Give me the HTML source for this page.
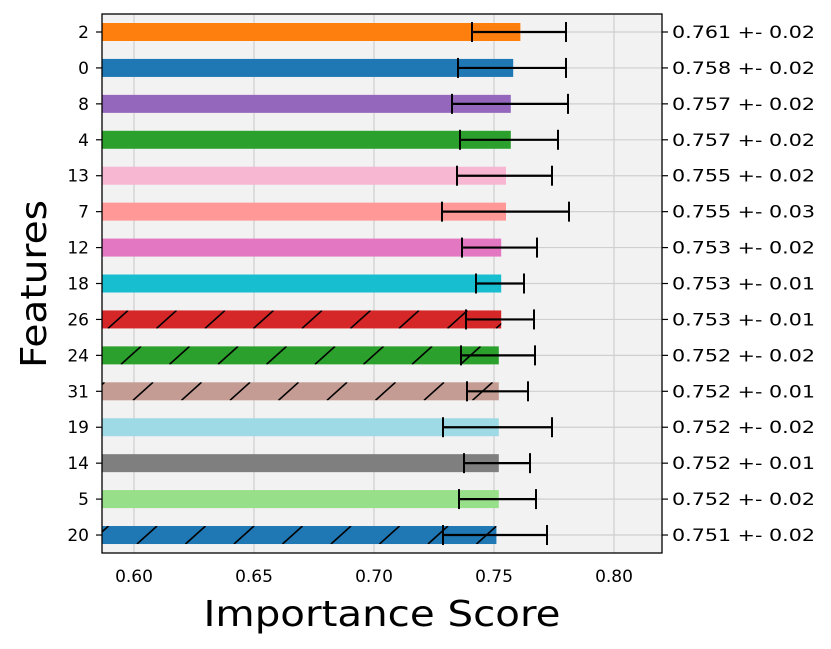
<!DOCTYPE html>
<html><head><meta charset="utf-8"><style>body{margin:0;background:#fff}svg{display:block}text{font-family:"DejaVu Sans","Liberation Sans",sans-serif}</style></head>
<body>
<svg width="831" height="649" viewBox="0 0 831 649" xmlns="http://www.w3.org/2000/svg">
<rect x="102" y="14" width="560" height="539" fill="#f2f2f2"/>
<g stroke="#cfcfcf" stroke-width="1.2" id="grid"></g>
<g id="bars"></g>
<rect x="102" y="14" width="560" height="539" fill="none" stroke="#000" stroke-width="1.3"/>
<g id="lab" font-size="17" fill="#000"></g>
<text x="382" y="626" font-size="36" text-anchor="middle" textLength="357" lengthAdjust="spacingAndGlyphs">Importance Score</text>
<text x="0" y="0" font-size="36" text-anchor="middle" textLength="168" lengthAdjust="spacingAndGlyphs" transform="translate(46,284) rotate(-90)">Features</text>
</svg>
<script>
const rows=[["2",.761,"#ff7f0e",0,472,566,"0.761 +- 0.02"],["0",.758,"#1f77b4",0,458,566,"0.758 +- 0.02"],["8",.757,"#9467bd",0,452,568,"0.757 +- 0.02"],["4",.757,"#2ca02c",0,460,558,"0.757 +- 0.02"],["13",.755,"#f7b6d2",0,457,552,"0.755 +- 0.02"],["7",.755,"#ff9896",0,442,569,"0.755 +- 0.03"],["12",.753,"#e377c2",0,462,537,"0.753 +- 0.02"],["18",.753,"#17becf",0,476,524,"0.753 +- 0.01"],["26",.753,"#d62728",108,466,534,"0.753 +- 0.01"],["24",.752,"#2ca02c",121,461,535,"0.752 +- 0.02"],["31",.752,"#c49c94",133,467,528,"0.752 +- 0.01"],["19",.752,"#9edae5",0,443,552,"0.752 +- 0.02"],["14",.752,"#7f7f7f",0,464,530,"0.752 +- 0.01"],["5",.752,"#98df8a",0,459,536,"0.752 +- 0.02"],["20",.751,"#1f77b4",137,443,547,"0.751 +- 0.02"]];
const X=v=>134+(v-.6)*2400;
let g="",b="",l="";
[.6,.65,.7,.75,.8].forEach(v=>{const x=X(v);g+=`<line x1="${x}" y1="14" x2="${x}" y2="553"/>`;l+=`<text x="${x}" y="582" text-anchor="middle">${v.toFixed(2)}</text>`;});
rows.forEach((r,i)=>{const y=32+i*35.93;g+=`<line x1="102" y1="${y}" x2="662" y2="${y}"/>`;
const w=X(r[1])-102;
b+=`<rect x="102" y="${y-9}" width="${w}" height="18" fill="${r[2]}"/>`;
if(r[3]){b+=`<clipPath id="c${i}"><rect x="102" y="${y-9}" width="${w}" height="18"/></clipPath><g clip-path="url(#c${i})" stroke="#000" stroke-width="1.6">`;
for(let x0=r[3]-48.5;x0<102+w;x0+=48.5)b+=`<line x1="${x0}" y1="${y+9}" x2="${x0+20}" y2="${y-9}"/>`;b+=`</g>`;}
b+=`<line x1="${r[4]}" y1="${y}" x2="${r[5]}" y2="${y}" stroke="#000" stroke-width="2.2"/><line x1="${r[4]}" y1="${y-10}" x2="${r[4]}" y2="${y+10}" stroke="#000" stroke-width="2"/><line x1="${r[5]}" y1="${y-10}" x2="${r[5]}" y2="${y+10}" stroke="#000" stroke-width="2"/>`;
b+=`<line x1="96" y1="${y}" x2="102" y2="${y}" stroke="#000" stroke-width="1.2"/><line x1="662" y1="${y}" x2="668" y2="${y}" stroke="#000" stroke-width="1.2"/>`;
l+=`<text x="89" y="${y+6}" text-anchor="end">${r[0]}</text><text x="672" y="${y+6}" textLength="143" lengthAdjust="spacingAndGlyphs">${r[6]}</text>`;});
document.getElementById("grid").innerHTML=g;document.getElementById("bars").innerHTML=b;document.getElementById("lab").innerHTML=l;
</script>
</body></html>
